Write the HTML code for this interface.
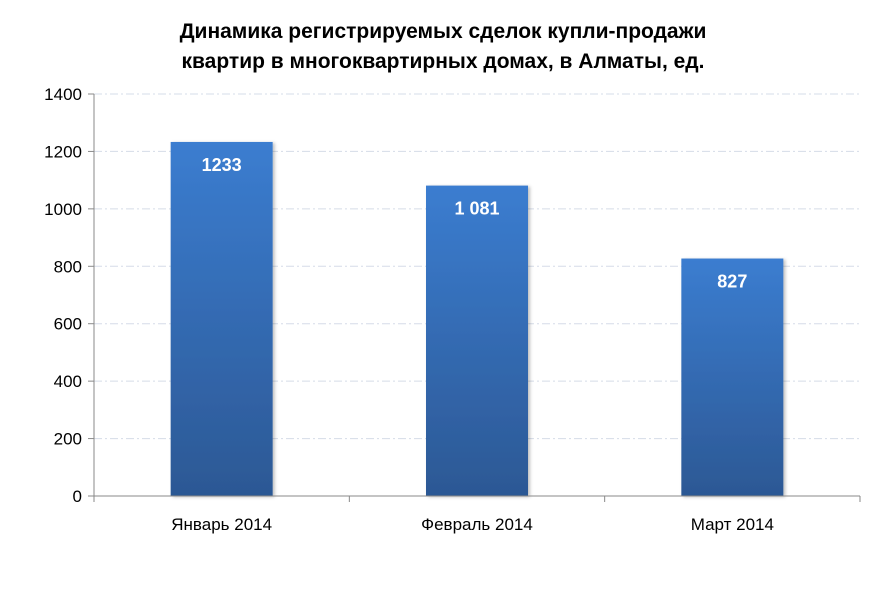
<!DOCTYPE html>
<html><head><meta charset="utf-8"><style>
body{margin:0;background:#fff;width:886px;height:591px;overflow:hidden}
svg{display:block}
text{font-family:"Liberation Sans",Arial,sans-serif}
</style></head><body>
<svg id="chart" width="886" height="591">
<defs>
<linearGradient id="bg" x1="0" y1="0" x2="0" y2="1">
<stop offset="0" stop-color="#3b7dd0"/><stop offset="1" stop-color="#2c5894"/>
</linearGradient>
<filter id="sh" x="-10%" y="-5%" width="125%" height="115%"><feDropShadow dx="2" dy="1" stdDeviation="1.5" flood-color="#000" flood-opacity="0.25"/></filter>
</defs>
<text x="443" y="38" text-anchor="middle" font-size="21" font-weight="bold" fill="#000">Динамика регистрируемых сделок купли-продажи</text>
<text x="443" y="68" text-anchor="middle" font-size="21" font-weight="bold" fill="#000">квартир в многоквартирных домах, в Алматы, ед.</text>
<g id="grid"></g><g id="bars"></g><g id="axes"></g>
</svg>
<script>
const categories=["Январь 2014","Февраль 2014","Март 2014"];
const values=[1233,1081,827];
const valueLabels=["1233","1 081","827"];
const yTicks=[0,200,400,600,800,1000,1200,1400];
const NS="http://www.w3.org/2000/svg";
const L=94,R=860,T=94,B=496,yMax=1400;
const y=v=>B-(v/yMax)*(B-T);
const bw=(R-L)/categories.length;
const x=i=>L+bw*(i+0.5);
function mk(t,a,p){const e=document.createElementNS(NS,t);for(const k in a)e.setAttribute(k,a[k]);p.appendChild(e);return e;}
const grid=document.getElementById('grid'),bars=document.getElementById('bars'),axes=document.getElementById('axes');
yTicks.forEach(v=>{
 if(v>0){const g=mk('line',{x1:L,x2:R,y1:y(v),y2:y(v),stroke:'#d5dce8','stroke-width':1,'stroke-dasharray':'8 3 2 3'},grid);
 
 }
 const tk=mk('line',{x1:L-6,x2:L,y1:y(v),y2:y(v),stroke:'#898989'},axes);
 
 
 const t=mk('text',{x:L-12,y:y(v)+6,'text-anchor':'end','font-size':17,fill:'#000'},axes);
 t.textContent=v;
 
 
});
values.forEach((v,i)=>{
 const w=102;
 const r=mk('rect',{x:x(i)-w/2,y:y(v),width:w,height:B-y(v),fill:'url(#bg)',filter:'url(#sh)'},bars);
 
 
 const t=mk('text',{x:x(i),y:y(v)+29,'text-anchor':'middle','font-size':18,'font-weight':'bold',fill:'#fff'},bars);
 t.textContent=valueLabels[i];
 
 
 const c=mk('text',{x:x(i),y:B+34,'text-anchor':'middle','font-size':17,fill:'#000'},axes);
 c.textContent=categories[i];
 
 
});
for(let i=0;i<=categories.length;i++){
 const tk=mk('line',{x1:L+bw*i,x2:L+bw*i,y1:B,y2:B+6,stroke:'#898989'},axes);
 
 
}
const ya=mk('line',{x1:L,x2:L,y1:T,y2:B,stroke:'#898989'},axes);


const xa=mk('line',{x1:L-6,x2:R,y1:B,y2:B,stroke:'#898989'},axes);


</script>
</body></html>
